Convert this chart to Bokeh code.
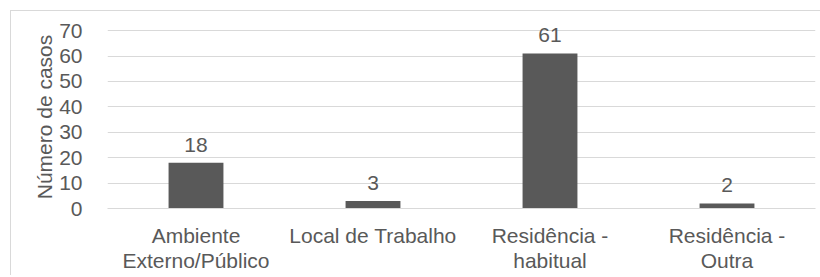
from bokeh.plotting import figure
from bokeh.models import ColumnDataSource, LabelSet, FixedTicker
from bokeh.layouts import column
from bokeh.core.properties import value
from bokeh.embed import file_html
from bokeh.resources import INLINE

categories = ["Ambiente\nExterno/Público", "Local de Trabalho", "Residência -\nhabitual", "Residência -\nOutra"]
values = [18, 3, 61, 2]
y_ticks = [0, 10, 20, 30, 40, 50, 60, 70]

FONT = "Liberation Sans"
TXT = "#595959"
GRID = "#d9d9d9"

src = ColumnDataSource(dict(cat=categories, val=values, lab=[str(v) for v in values]))

p = figure(x_range=categories, y_range=(0, 72), output_backend="svg", toolbar_location=None,
           frame_width=708, frame_height=183,
           min_border_left=96, min_border_top=14, min_border_right=5, min_border_bottom=67)
p.outline_line_color = None
p.background_fill_color = "white"

p.vbar(x="cat", top="val", width=0.31, source=src, fill_color="#595959", line_color=None)

labels = LabelSet(x="cat", y="val", text="lab", source=src, text_align="center",
                  text_baseline="alphabetic", y_offset=11, text_font=value(FONT),
                  text_font_size=value("21px"), text_color=TXT)
p.add_layout(labels)

p.yaxis.ticker = FixedTicker(ticks=y_ticks)
p.ygrid.ticker = FixedTicker(ticks=y_ticks)
p.ygrid.grid_line_color = GRID
p.xgrid.grid_line_color = None

p.yaxis.axis_line_color = None
p.yaxis.major_tick_line_color = None
p.yaxis.minor_tick_line_color = None
p.yaxis.major_label_standoff = 19
p.yaxis.major_label_text_font = FONT
p.yaxis.major_label_text_font_size = "21px"
p.yaxis.major_label_text_color = TXT
p.yaxis.axis_label = "Número de casos"
p.yaxis.axis_label_text_font = FONT
p.yaxis.axis_label_text_font_size = "21px"
p.yaxis.axis_label_text_font_style = "normal"
p.yaxis.axis_label_text_color = TXT
p.yaxis.axis_label_standoff = 0

p.xaxis.axis_line_color = GRID
p.xaxis.major_tick_line_color = None
p.xaxis.minor_tick_line_color = None
p.xaxis.major_label_standoff = 9
p.xaxis.major_label_text_font = FONT
p.xaxis.major_label_text_font_size = "21px"
p.xaxis.major_label_text_color = TXT
p.xaxis.major_label_text_line_height = 1.1

layout = column(p, margin=(10, 0, 0, 10),
                styles={"border-left": "1px solid #d9d9d9", "border-top": "1px solid #d9d9d9"})

open("out.html", "w").write(file_html(layout, INLINE))
